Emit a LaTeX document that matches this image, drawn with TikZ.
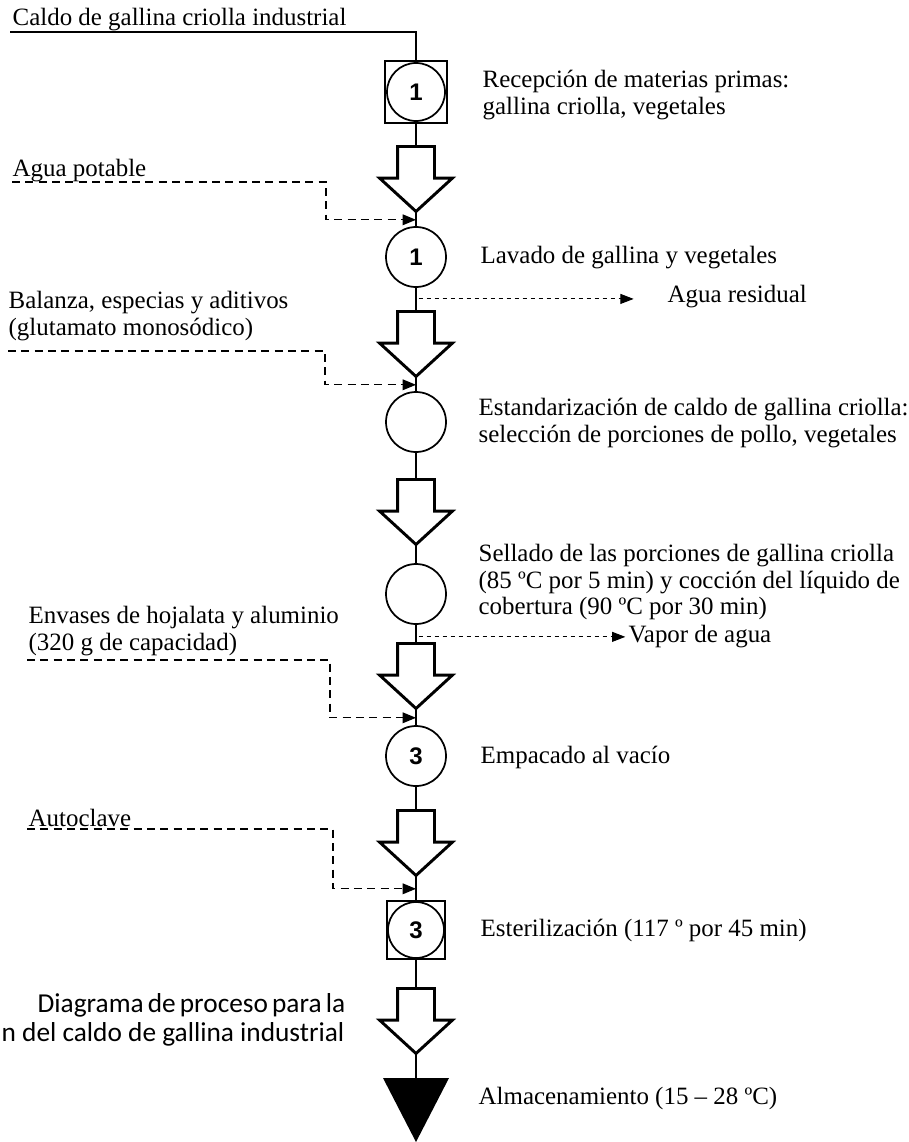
\documentclass[tikz,border=0pt]{standalone}
\usepackage{fontspec}
\setmainfont{Liberation Serif}
\newfontfamily\numfont{Liberation Sans}
\newfontfamily\capfont{Carlito}
\usetikzlibrary{shapes.arrows}
\usetikzlibrary{arrows.meta}
\usetikzlibrary{calc}

\tikzset{
  txt/.style={font=\fontsize{18.7}{19.8}\selectfont, inner sep=0pt, align=left},
  opcirc/.style={circle, draw, line width=1.3pt, minimum size=45pt, inner sep=0pt, fill=white,
    font=\numfont\bfseries\fontsize{18}{18}\selectfont},
  opbox/.style={rectangle, draw, line width=1.3pt, minimum size=46.5pt, inner sep=0pt},
  transp/.style={single arrow, draw, line width=2.2pt, shape border rotate=270, fill=white,
    minimum height=48.75pt, minimum width=52.5pt, single arrow head extend=13.5pt,
    single arrow tip angle=95, inner sep=12.75pt, anchor=tail},
  feed/.style={dash pattern=on 6pt off 4pt, line width=1pt, -{Triangle[length=10pt,width=8pt]}},
  waste/.style={dash pattern=on 3.5pt off 2.5pt, line width=0.8pt, -{Triangle[length=10pt,width=7.5pt]}}
}

\begin{document}
\begin{tikzpicture}[x=0.75pt, y=-0.75pt, line width=1pt]
        \useasboundingbox (0,0) rectangle (909,1142);

        \node[opbox] (rec) at (416,92) {};
        \node[opcirc, minimum size=43.5pt] at (rec) {1};
        \node[transp] (t1) at (416,145) {};
        \node[opcirc] (lav) at (416,257) {1};
        \node[transp] (t2) at (416,310) {};
        \node[opcirc] (est) at (416,422) {};
        \node[transp] (t3) at (416,478) {};
        \node[opcirc] (sel) at (416,594) {};
        \node[transp] (t4) at (416,642) {};
        \node[opcirc] (emp) at (416,756) {3};
        \node[transp] (t5) at (416,809) {};
        \node[opbox, minimum size=43.5pt] (ste) at (416,930) {};
        \node[opcirc, minimum size=42pt] at (ste) {3};
        \node[transp] (t6) at (416,987) {};
        \coordinate (alm) at (416,1078);
        \fill (alm) ++(-33,0) -- ++(66,0) -- ++(-33,64) -- cycle;

        \foreach \i/\j in {rec/t1, t1/lav, lav/t2, t2/est, est/t3, t3/sel, sel/t4, t4/emp, emp/t5, t5/ste, ste/t6, t6/alm}
            \draw (\i) -- (\j);

        \coordinate (src) at (10,32);
        \draw (src) -| (rec);
        \node[txt, anchor=base west] (srclbl) at (12,25) {Caldo de gallina criolla industrial};

        \node[txt, anchor=west] (reclbl) at (482,95) {Recepción de materias primas:\\gallina criolla, vegetales};
        \node[txt, anchor=west] (lavlbl) at (480,258) {Lavado de gallina y vegetales};
        \node[txt, anchor=west] (estlbl) at (478,423) {Estandarización de caldo de gallina criolla:\\selección de porciones de pollo, vegetales};
        \node[txt, anchor=west] (sellbl) at (478,582) {Sellado de las porciones de gallina criolla\\(85 ºC por 5 min) y cocción del líquido de\\cobertura (90 ºC por 30 min)};
        \node[txt, anchor=west] (emplbl) at (480,757) {Empacado al vacío};
        \node[txt, anchor=west] (stelbl) at (480,930) {Esterilización (117 º por 45 min)};
        \node[txt, anchor=west] (almlbl) at (478,1098) {Almacenamiento (15 – 28 ºC)};

        \node[txt, anchor=west] (in1lbl) at (12,171) {Agua potable};
        \node[txt, anchor=west] (in2lbl) at (8,316) {Balanza, especias y aditivos\\(glutamato monosódico)};
        \node[txt, anchor=west] (in3lbl) at (28,631) {Envases de hojalata y aluminio\\(320 g de capacidad)};
        \node[txt, anchor=west] (in4lbl) at (28,818) {Autoclave};

        \coordinate (in1) at (12,182);
        \coordinate (in2) at (8,351);
        \coordinate (in3) at (27,660);
        \coordinate (in4) at (27,829);
        \coordinate (m1) at ($(t1.tip)!0.5!(lav.north)$);
        \coordinate (m2) at ($(t2.tip)!0.5!(est.north)$);
        \coordinate (m3) at ($(t4.tip)!0.5!(emp.north)$);
        \coordinate (m4) at ($(t5.tip)!0.5!(ste.north)$);
        \draw[feed] (in1) -| ($(m1)+(-90,0)$) -- (m1);
        \draw[feed] (in2) -| ($(m2)+(-91,0)$) -- (m2);
        \draw[feed] (in3) -| ($(m3)+(-86,0)$) -- (m3);
        \draw[feed] (in4) -| ($(m4)+(-83,0)$) -- (m4);

        \node[txt, anchor=west] (res) at (667,297) {Agua residual};
        \node[txt, anchor=west] (vap) at (628,637) {Vapor de agua};
        \coordinate (o1) at ($(lav.south)!0.5!(t2.tail)$);
        \coordinate (o2) at ($(sel.south)!0.7!(t4.tail)$);
        \draw[waste, shorten <=2pt, shorten >=25pt] (o1) -- (o1 -| res.west);
        \draw[waste, shorten <=2pt, shorten >=2pt] (o2) -- (o2 -| vap.west);

        \node[txt, font=\capfont\fontsize{20.5}{21.75}\selectfont, anchor=east] (cap1) at (345,1005) {\makebox[230pt][s]{Diagrama de proceso para la}};
        \node[txt, font=\capfont\fontsize{20.5}{21.75}\selectfont, anchor=east] (cap2) at (345,1034) {n del caldo de gallina industrial};
\end{tikzpicture}
\end{document}
